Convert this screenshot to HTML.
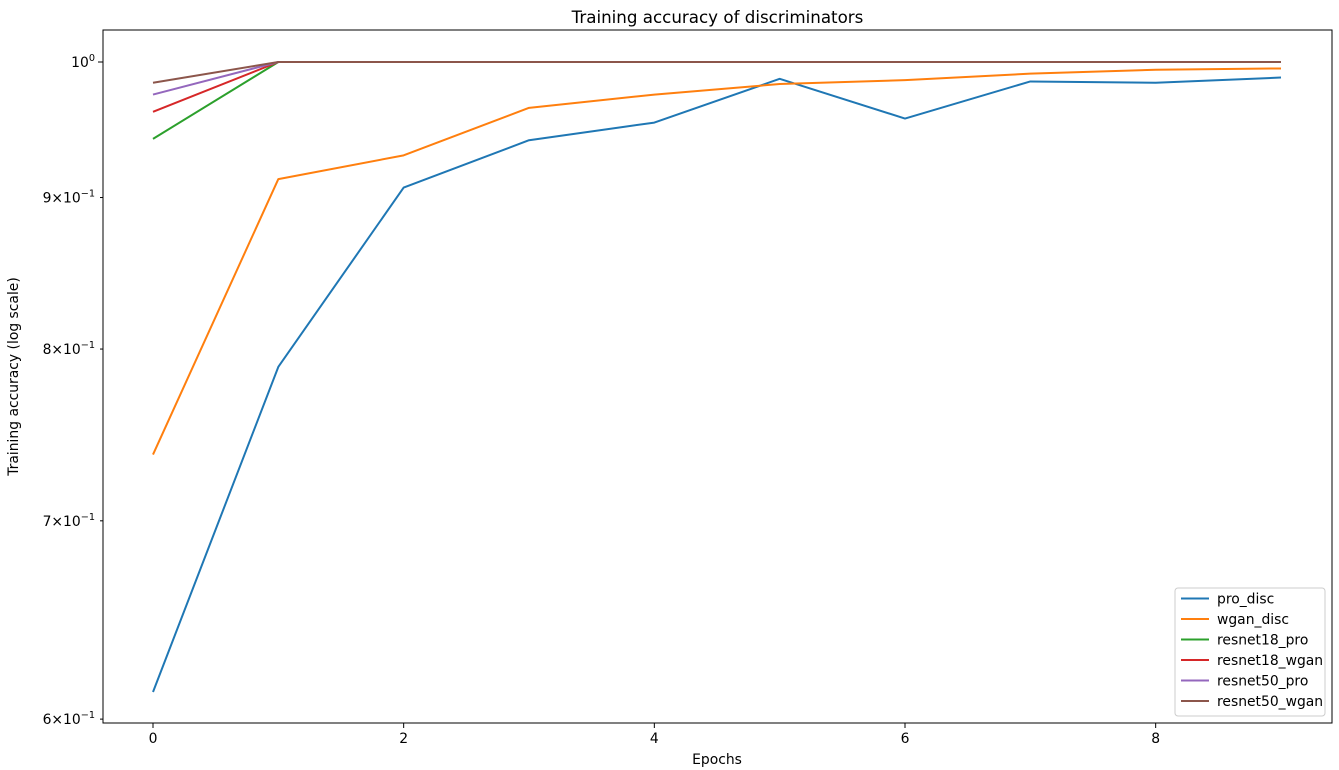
<!DOCTYPE html>
<html><head><meta charset="utf-8"><style>
html,body{margin:0;padding:0;background:#fff;}
svg{display:block;font-family:"DejaVu Sans","Liberation Sans",sans-serif;}
</style></head><body>
<svg id="chart" width="1339" height="770" viewBox="0 0 1339 770"></svg>
<script>
const epochs=[0,1,2,3,4,5,6,7,8,9];
const proDisc=[0.6128,0.789,0.907,0.941,0.954,0.987,0.957,0.985,0.984,0.988];
const wganDisc=[0.737,0.913,0.930,0.965,0.975,0.983,0.986,0.991,0.994,0.995];
const resnet18Pro=[0.942,1,1,1,1,1,1,1,1,1];
const resnet18Wgan=[0.962,1,1,1,1,1,1,1,1,1];
const resnet50Pro=[0.975,1,1,1,1,1,1,1,1,1];
const resnet50Wgan=[0.984,1,1,1,1,1,1,1,1,1];
const seriesNames=["pro_disc","wgan_disc","resnet18_pro","resnet18_wgan","resnet50_pro","resnet50_wgan"];
const seriesColors=["#1f77b4","#ff7f0e","#2ca02c","#d62728","#9467bd","#8c564b"];
const allSeries=[proDisc,wganDisc,resnet18Pro,resnet18Wgan,resnet50Pro,resnet50Wgan];
const xTicks=[0,2,4,6,8];
const yTicks=[1.0,0.9,0.8,0.7,0.6];
const yTickLabels=["10^0","9×10^−1","8×10^−1","7×10^−1","6×10^−1"];

const NS="http://www.w3.org/2000/svg";
const svg=document.getElementById('chart');
const L=103,R=1332,T=30,B=723;
const x=v=>153+v*(1281-153)/9;
const y=v=>62+Math.log10(1/v)*2962;
function mk(tag,attrs,parent){const e=document.createElementNS(NS,tag);for(const k in attrs)e.setAttribute(k,attrs[k]);(parent||svg).appendChild(e);return e;}

const title=mk('text',{x:(L+R)/2,y:23,'text-anchor':'middle','font-size':16.7,fill:'#000'});
title.textContent='Training accuracy of discriminators';



allSeries.forEach((s,i)=>{
  const p=mk('polyline',{points:s.map((v,j)=>x(epochs[j])+','+y(v)).join(' '),fill:'none',stroke:seriesColors[i],'stroke-width':2,'stroke-linejoin':'round'});
  
  
});

const frame=mk('rect',{x:L,y:T,width:R-L,height:B-T,fill:'none',stroke:'#000','stroke-width':1});



xTicks.forEach(t=>{
  mk('line',{x1:x(t),x2:x(t),y1:B,y2:B+5,stroke:'#000'});
  const tx=mk('text',{x:x(t),y:B+20,'text-anchor':'middle','font-size':13.9});
  tx.textContent=t;
  
  
});
const xl=mk('text',{x:(L+R)/2-0.5,y:764,'text-anchor':'middle','font-size':13.9});
xl.textContent='Epochs';



yTicks.forEach((t,i)=>{
  mk('line',{x1:L-(i===0?5:3),x2:L,y1:y(t),y2:y(t),stroke:'#000'});
  const parts=yTickLabels[i].split('^');
  const tx=mk('text',{x:L-8,y:y(t)+5,'text-anchor':'end','font-size':13.9});
  const a=document.createElementNS(NS,'tspan');a.textContent=parts[0];tx.appendChild(a);
  const b=document.createElementNS(NS,'tspan');b.setAttribute('dy','-6');b.setAttribute('font-size','9.7');b.textContent=parts[1];tx.appendChild(b);
  
  
});
const yl=mk('text',{x:18,y:(T+B)/2,'text-anchor':'middle','font-size':13.9,transform:'rotate(-90 18 '+((T+B)/2)+')'});
yl.textContent='Training accuracy (log scale)';



const lg=mk('g',{});


mk('rect',{x:1175,y:588,width:150,height:128,rx:3,fill:'#fff',stroke:'#ccc'},lg);
seriesNames.forEach((n,i)=>{
  const g=mk('g',{},lg);
  
  
  const yy=598.5+i*20.5;
  mk('line',{x1:1181,x2:1209,y1:yy,y2:yy,stroke:seriesColors[i],'stroke-width':2},g);
  const t=mk('text',{x:1217,y:yy+5,'font-size':13.9},g);
  t.textContent=n;
});
</script>
</body></html>
